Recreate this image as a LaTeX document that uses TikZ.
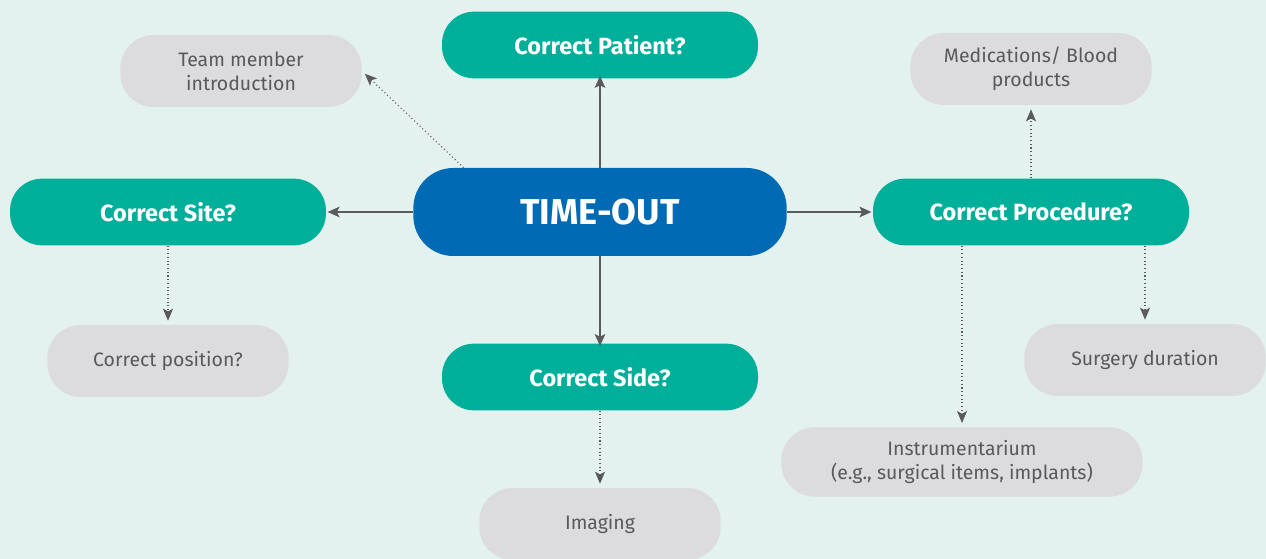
\documentclass[tikz,border=0pt]{standalone}
\usepackage{fontspec}
\setmainfont{Fira Sans}
\usetikzlibrary{arrows.meta}

\definecolor{bgmint}{RGB}{228,242,239}
\definecolor{qteal}{RGB}{0,175,154}
\definecolor{hubblue}{RGB}{0,106,181}
\definecolor{infogray}{RGB}{220,220,222}
\definecolor{textgray}{RGB}{88,89,91}
\definecolor{linegray}{RGB}{90,90,92}

\tikzset{
  qbox/.style={fill=qteal, text=white, rounded corners=24pt, minimum width=237pt, minimum height=50pt,
    font=\fontsize{17.6}{20}\selectfont\bfseries, inner sep=0pt},
  hubbox/.style={fill=hubblue, text=white, rounded corners=30pt, minimum width=280pt, minimum height=66pt,
    font=\fontsize{27}{31}\selectfont\bfseries, inner sep=0pt},
  infobox/.style={fill=infogray, text=textgray, rounded corners=25pt, minimum width=181pt, minimum height=54pt,
    font=\fontsize{14.6}{18}\selectfont, align=center, inner sep=0pt},
  solidarrow/.style={draw=linegray, line width=1.1pt, -{Stealth[length=9pt,width=8pt,inset=2pt]}},
  dotarrow/.style={draw=linegray, line width=0.8pt, dotted, shorten >=3pt,
    -{Stealth[length=9pt,width=7.5pt,inset=2pt]}}
}

\begin{document}
\begin{tikzpicture}[x=0.75pt,y=0.75pt,yscale=-1,xscale=1]
% background and page size
\fill[bgmint] (0,0) rectangle (1266,559);
\useasboundingbox (0,0) rectangle (1266,559);

% hub
\node[hubbox] (timeout) at (600,212) {TIME-OUT};

% questions
\node[qbox] (patient) at (600,45) {Correct Patient?};
\node[qbox] (site) at (168,212) {Correct Site?};
\node[qbox] (procedure) at (1031,212) {Correct Procedure?};
\node[qbox] (side) at (600,377) {Correct Side?};

% extra checks
\node[infobox] (team) at (241,71) {Team member\\introduction};
\node[infobox] (meds) at (1031,69) {Medications/ Blood\\products};
\node[infobox] (position) at (168,361) {Correct position?};
\node[infobox] (duration) at (1145,360) {Surgery duration};
\node[infobox, minimum width=271pt, minimum height=52pt] (instr) at (962,462) {Instrumentarium\\(e.g., surgical items, implants)};
\node[infobox] (imaging) at (600,524) {Imaging};

% solid connectors
\draw[solidarrow] (timeout.north) -- ([yshift=-2pt]patient.south);
\draw[solidarrow] (timeout.west) -- ([xshift=1pt]site.east);
\draw[solidarrow] (timeout.east) -- ([xshift=-1pt]procedure.west);
\draw[solidarrow] (timeout.south) -- ([yshift=2pt]side.north);

% dotted connectors
\draw[dotarrow] (timeout.162.8) -- (team.east);
\draw[dotarrow] (site.south) -- (position.north);
\draw[dotarrow] (procedure.north) -- (meds.south);
\draw[dotarrow] (instr.north |- procedure.south) -- (instr.north);
\draw[dotarrow] (duration.north |- procedure.south) -- (duration.north);
\draw[dotarrow] (side.south) -- (imaging.north);

\end{tikzpicture}
\end{document}
